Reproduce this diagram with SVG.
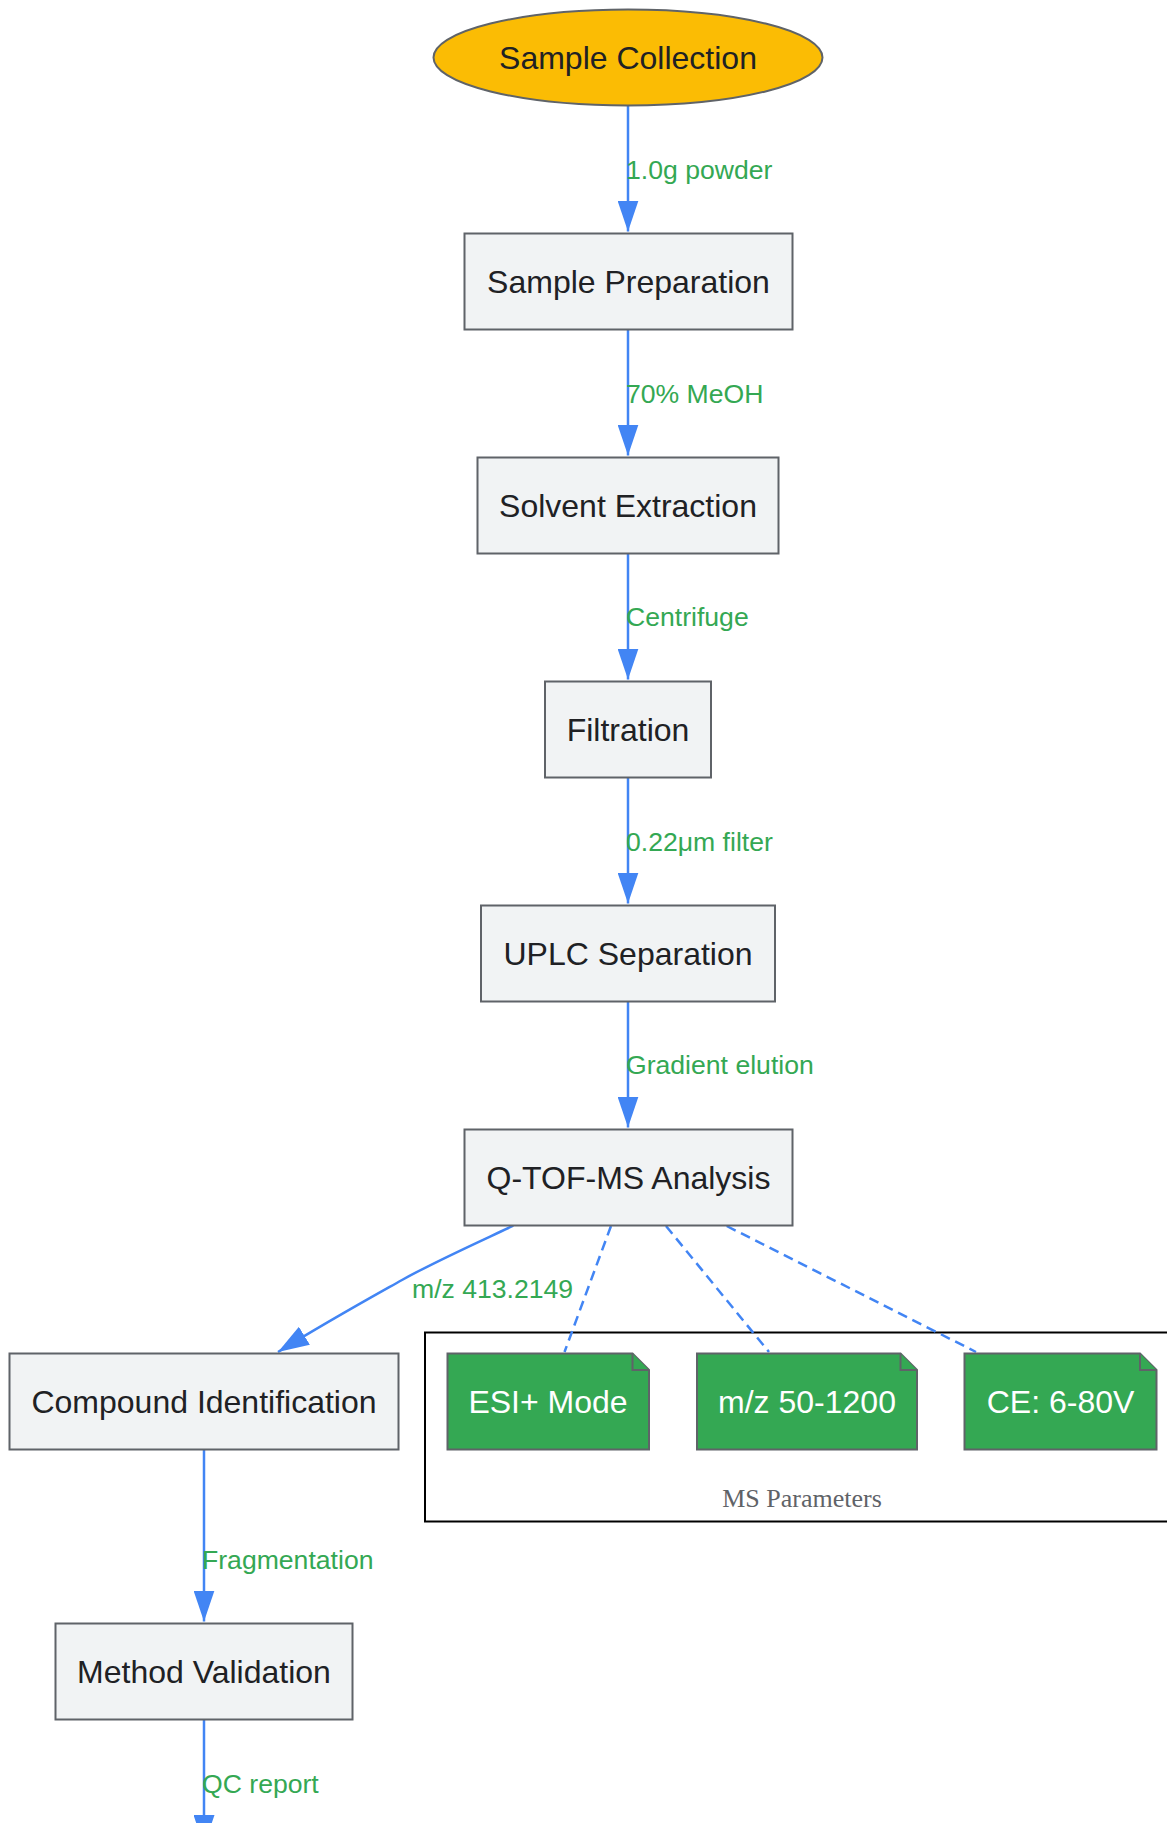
<svg xmlns="http://www.w3.org/2000/svg" width="1167" height="1823" viewBox="0 0 1167 1823">
<defs>
<style>
.node rect{fill:#f1f3f4;stroke:#5f6368;stroke-width:2}
.ntxt{font-family:"Liberation Sans",Arial,sans-serif;font-size:32px;fill:#202124;text-anchor:middle;dominant-baseline:central}
.note path{fill:#34a853;stroke:#5f6368;stroke-width:2}
.wtxt{font-family:"Liberation Sans",Arial,sans-serif;font-size:32px;fill:#ffffff;text-anchor:middle;dominant-baseline:central}
.edge{fill:none;stroke:#4285f4;stroke-width:2.5}
.dash{fill:none;stroke:#4285f4;stroke-width:2.5;stroke-dasharray:10 6}
.elbl{font-family:"Liberation Sans",Arial,sans-serif;font-size:26.6px;fill:#34a853;dominant-baseline:central}
</style>
<marker id="arr" viewBox="0 0 31 21" refX="31" refY="10.5" markerWidth="31" markerHeight="21" markerUnits="userSpaceOnUse" orient="auto">
<path d="M0,0 L31,10.5 L0,21 Z" fill="#4285f4"/>
</marker>
</defs>
<rect width="1167" height="1823" fill="#ffffff"/>

<g id="cluster-ms">
<rect x="425" y="1332.5" width="760" height="189" fill="none" stroke="#000000" stroke-width="2"/>
<text x="802" y="1498" font-family="'Liberation Serif','Times New Roman',serif" font-size="26" fill="#5f6368" text-anchor="middle" dominant-baseline="central">MS Parameters</text>
</g>

<g id="connectors">
<path class="edge" d="M628,105.5 L628,231.5" marker-end="url(#arr)"/>
<path class="edge" d="M628,329.5 L628,455.5" marker-end="url(#arr)"/>
<path class="edge" d="M628,553.5 L628,679.5" marker-end="url(#arr)"/>
<path class="edge" d="M628,777.5 L628,903.5" marker-end="url(#arr)"/>
<path class="edge" d="M628,1001.5 L628,1127.5" marker-end="url(#arr)"/>
<path class="edge" d="M513.3,1225.7 C470,1246 432,1263 402,1280 C370,1298 330,1320 278,1352" marker-end="url(#arr)"/>
<path class="dash" d="M611,1226 L564.5,1352"/>
<path class="dash" d="M666,1226 L769,1352"/>
<path class="dash" d="M726.7,1226 L976,1352"/>
<path class="edge" d="M204,1449.5 L204,1621.5" marker-end="url(#arr)"/>
<path class="edge" d="M204,1719.5 L204,1846" marker-end="url(#arr)"/>
<text class="elbl" x="626" y="170">1.0g powder</text>
<text class="elbl" x="626" y="394">70% MeOH</text>
<text class="elbl" x="626" y="617">Centrifuge</text>
<text class="elbl" x="626" y="841.5">0.22μm filter</text>
<text class="elbl" x="626" y="1065">Gradient elution</text>
<text class="elbl" x="412" y="1289">m/z 413.2149</text>
<text class="elbl" x="202" y="1560">Fragmentation</text>
<text class="elbl" x="202" y="1783.5">QC report</text>
</g>

<g id="sample-collection">
<ellipse cx="628" cy="57.5" rx="194.5" ry="48" fill="#fbbc04" stroke="#5f6368" stroke-width="2"/>
<text class="ntxt" x="628" y="57.5">Sample Collection</text>
</g>
<g id="sample-preparation" class="node">
<rect x="464.5" y="233.5" width="328" height="96"/>
<text class="ntxt" x="628.5" y="281.5">Sample Preparation</text>
</g>
<g id="solvent-extraction" class="node">
<rect x="477.5" y="457.5" width="301" height="96"/>
<text class="ntxt" x="628" y="505.5">Solvent Extraction</text>
</g>
<g id="filtration" class="node">
<rect x="545" y="681.5" width="166" height="96"/>
<text class="ntxt" x="628" y="729.5">Filtration</text>
</g>
<g id="uplc-separation" class="node">
<rect x="481" y="905.5" width="294" height="96"/>
<text class="ntxt" x="628" y="953.5">UPLC Separation</text>
</g>
<g id="qtof-ms-analysis" class="node">
<rect x="464.5" y="1129.5" width="328" height="96"/>
<text class="ntxt" x="628.5" y="1177.5">Q-TOF-MS Analysis</text>
</g>
<g id="compound-identification" class="node">
<rect x="9.5" y="1353.5" width="389" height="96"/>
<text class="ntxt" x="204" y="1401.5">Compound Identification</text>
</g>
<g id="method-validation" class="node">
<rect x="55.5" y="1623.5" width="297" height="96"/>
<text class="ntxt" x="204" y="1671.5">Method Validation</text>
</g>

<g id="esi-mode" class="note">
<path d="M447.5,1353.5 H632.5 L649,1370 V1449.5 H447.5 Z"/>
<path d="M632.5,1353.5 V1370 H649"/>
<text class="wtxt" x="548" y="1401.5">ESI+ Mode</text>
</g>
<g id="mz-range" class="note">
<path d="M697,1353.5 H900.5 L917,1370 V1449.5 H697 Z"/>
<path d="M900.5,1353.5 V1370 H917"/>
<text class="wtxt" x="807" y="1401.5">m/z 50-1200</text>
</g>
<g id="collision-energy" class="note">
<path d="M964.5,1353.5 H1140 L1156.5,1370 V1449.5 H964.5 Z"/>
<path d="M1140,1353.5 V1370 H1156.5"/>
<text class="wtxt" x="1060.5" y="1401.5">CE: 6-80V</text>
</g>
</svg>
